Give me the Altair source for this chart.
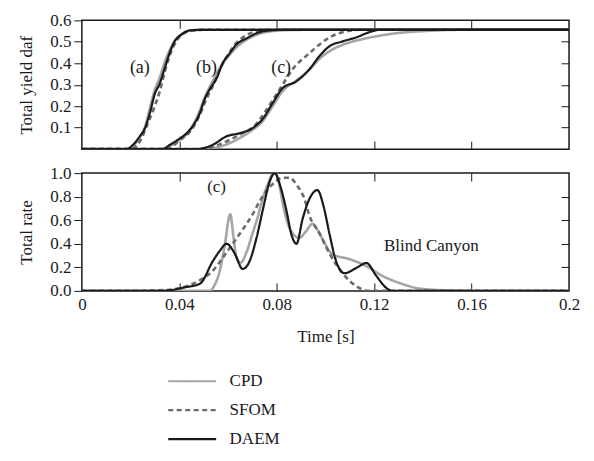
import altair as alt
import pandas as pd

FONT = "Liberation Serif"
MODELS = ["CPD", "SFOM", "DAEM"]
COLORS = ["#a5a5a5", "#6b6b6b", "#1a1a1a"]

# ---------------- Top panel: total yield daf ----------------
a_cpd_t = [0, 0.0185, 0.021, 0.0238, 0.0258, 0.0279, 0.0299, 0.032, 0.034, 0.036, 0.0381, 0.041, 0.0443, 0.05, 0.2]
a_cpd_v = [0, 0, 0.015, 0.055, 0.10, 0.19, 0.275, 0.335, 0.405, 0.46, 0.505, 0.535, 0.553, 0.556, 0.556]
a_sfom_t = [0, 0.0205, 0.0225, 0.0245, 0.0266, 0.0299, 0.032, 0.034, 0.0369, 0.0395, 0.042, 0.045, 0.05, 0.2]
a_sfom_v = [0, 0, 0.015, 0.05, 0.107, 0.20, 0.27, 0.36, 0.46, 0.515, 0.54, 0.553, 0.556, 0.556]
a_daem_t = [0, 0.0185, 0.0205, 0.0238, 0.0258, 0.0279, 0.0299, 0.032, 0.034, 0.036, 0.0381, 0.041, 0.0443, 0.05, 0.2]
a_daem_v = [0, 0, 0.015, 0.06, 0.095, 0.167, 0.256, 0.307, 0.377, 0.447, 0.502, 0.535, 0.553, 0.556, 0.556]

b_cpd_t = [0, 0.033, 0.037, 0.0402, 0.043, 0.0455, 0.0484, 0.0504, 0.0525, 0.0553, 0.0578, 0.0607, 0.0635, 0.0676, 0.0717, 0.077, 0.085, 0.092, 0.2]
b_cpd_v = [0, 0, 0.02, 0.045, 0.07, 0.11, 0.18, 0.24, 0.29, 0.35, 0.40, 0.44, 0.475, 0.51, 0.533, 0.548, 0.555, 0.556, 0.556]
b_sfom_t = [0, 0.035, 0.04, 0.045, 0.048, 0.051, 0.054, 0.057, 0.06, 0.063, 0.0656, 0.07, 0.075, 0.2]
b_sfom_v = [0, 0, 0.04, 0.09, 0.15, 0.23, 0.30, 0.38, 0.44, 0.49, 0.516, 0.544, 0.556, 0.556]
b_daem_t = [0, 0.033, 0.0361, 0.0402, 0.043, 0.0455, 0.0484, 0.0504, 0.0525, 0.0553, 0.0578, 0.0607, 0.0635, 0.0676, 0.0717, 0.077, 0.083, 0.2]
b_daem_v = [0, 0, 0.02, 0.05, 0.074, 0.107, 0.167, 0.232, 0.279, 0.33, 0.40, 0.447, 0.488, 0.516, 0.54, 0.553, 0.556, 0.556]

c_cpd_t = [0, 0.05, 0.056, 0.062, 0.066, 0.0701, 0.0742, 0.0783, 0.0824, 0.0881, 0.0934, 0.0975, 0.1016, 0.108, 0.115, 0.122, 0.129, 0.142, 0.155, 0.2]
c_cpd_v = [0, 0, 0.01, 0.035, 0.06, 0.09, 0.13, 0.20, 0.27, 0.32, 0.37, 0.42, 0.456, 0.49, 0.512, 0.528, 0.54, 0.551, 0.556, 0.556]
c_sfom_t = [0, 0.05, 0.056, 0.061, 0.066, 0.071, 0.075, 0.079, 0.0824, 0.0865, 0.0934, 0.1016, 0.107, 0.115, 0.2]
c_sfom_v = [0, 0, 0.02, 0.045, 0.075, 0.11, 0.17, 0.24, 0.30, 0.372, 0.447, 0.52, 0.545, 0.556, 0.556]
c_daem_t = [0, 0.047, 0.0537, 0.0594, 0.0647, 0.0701, 0.0742, 0.0783, 0.0824, 0.0881, 0.0934, 0.0975, 0.1016, 0.107, 0.1127, 0.118, 0.1225, 0.2]
c_daem_v = [0, 0, 0.02, 0.06, 0.074, 0.098, 0.14, 0.214, 0.284, 0.316, 0.372, 0.433, 0.479, 0.502, 0.521, 0.545, 0.556, 0.556]

# ---------------- Bottom panel: total rate (case c) ----------------
r_cpd_t = [0, 0.0525, 0.0545, 0.0566, 0.0586, 0.0609, 0.0623, 0.0635, 0.0652, 0.0676, 0.0701, 0.0721, 0.0742, 0.0762, 0.0783, 0.0795, 0.0811, 0.0824, 0.0844, 0.0865, 0.0893, 0.0918, 0.0947, 0.0967, 0.0988, 0.1029, 0.1098, 0.1168, 0.1234, 0.1303, 0.1397, 0.1537, 0.1725, 0.2]
r_cpd_v = [0, 0, 0.05, 0.17, 0.38, 0.65, 0.45, 0.28, 0.24, 0.33, 0.49, 0.62, 0.78, 0.90, 0.99, 1.0, 0.90, 0.75, 0.58, 0.49, 0.45, 0.50, 0.57, 0.52, 0.44, 0.31, 0.27, 0.21, 0.127, 0.068, 0.017, 0.003, 0, 0]
r_sfom_t = [0, 0.0238, 0.0279, 0.036, 0.043, 0.0484, 0.0537, 0.0578, 0.0619, 0.066, 0.0701, 0.073, 0.0758, 0.0791, 0.0824, 0.0852, 0.0885, 0.0914, 0.0934, 0.0975, 0.1016, 0.107, 0.1127, 0.118, 0.2]
r_sfom_v = [0, 0, 0.003, 0.01, 0.04, 0.09, 0.17, 0.28, 0.40, 0.52, 0.65, 0.76, 0.85, 0.92, 0.96, 0.96, 0.89, 0.78, 0.64, 0.49, 0.32, 0.15, 0.04, 0, 0]
r_daem_t = [0, 0.032, 0.036, 0.0422, 0.0484, 0.0537, 0.0566, 0.0594, 0.0627, 0.066, 0.0688, 0.0717, 0.0742, 0.077, 0.0791, 0.0816, 0.084, 0.086, 0.0881, 0.0906, 0.0934, 0.0967, 0.0992, 0.1016, 0.1041, 0.1078, 0.1127, 0.1168, 0.1209, 0.125, 0.1275, 0.2]
r_daem_v = [0, 0, 0.005, 0.03, 0.06, 0.25, 0.34, 0.40, 0.32, 0.186, 0.25, 0.45, 0.68, 0.92, 1.0, 0.88, 0.68, 0.48, 0.40, 0.61, 0.78, 0.856, 0.72, 0.49, 0.27, 0.15, 0.195, 0.237, 0.127, 0.025, 0, 0]

# ---------------- Axis ticks and labels ----------------
x_ticks = [0, 0.04, 0.08, 0.12, 0.16, 0.2]
x_inner_ticks = [0.04, 0.08, 0.12, 0.16]
yield_ticks = [0.1, 0.2, 0.3, 0.4, 0.5, 0.6]
yield_inner_ticks = [0.1, 0.2, 0.3, 0.4, 0.5]
rate_ticks = [0.0, 0.2, 0.4, 0.6, 0.8, 1.0]
rate_inner_ticks = [0.2, 0.4, 0.6, 0.8]

top_labels = ["(a)", "(b)", "(c)"]
top_labels_t = [0.0238, 0.0512, 0.0818]
top_labels_v = [0.378, 0.378, 0.378]
bottom_labels = ["(c)", "Blind Canyon"]
bottom_labels_t = [0.0553, 0.1435]
bottom_labels_v = [0.88, 0.385]

W = 488
H_TOP = 129
H_BOT = 118
TICK = 8
INK = "#1a1a1a"


def frame(values, model, group):
    return pd.DataFrame({"t": values[0], "v": values[1], "model": model, "group": group})


top_df = pd.concat([
    frame((a_cpd_t, a_cpd_v), "CPD", "a"), frame((a_sfom_t, a_sfom_v), "SFOM", "a"), frame((a_daem_t, a_daem_v), "DAEM", "a"),
    frame((b_cpd_t, b_cpd_v), "CPD", "b"), frame((b_sfom_t, b_sfom_v), "SFOM", "b"), frame((b_daem_t, b_daem_v), "DAEM", "b"),
    frame((c_cpd_t, c_cpd_v), "CPD", "c"), frame((c_sfom_t, c_sfom_v), "SFOM", "c"), frame((c_daem_t, c_daem_v), "DAEM", "c"),
], ignore_index=True)
bot_df = pd.concat([
    frame((r_cpd_t, r_cpd_v), "CPD", "c"), frame((r_sfom_t, r_sfom_v), "SFOM", "c"), frame((r_daem_t, r_daem_v), "DAEM", "c"),
], ignore_index=True)

legend = alt.Legend(
    orient="none", legendX=97, legendY=348, title=None, symbolType="M-2,0H2",
    symbolSize=576, symbolStrokeWidth=2.2, labelFont=FONT, labelFontSize=17,
    labelColor=INK, labelOffset=24, rowPadding=7, symbolLimit=3,
)
color = alt.Color("model:N", scale=alt.Scale(domain=MODELS, range=COLORS), legend=legend)
dash = alt.StrokeDash("model:N", scale=alt.Scale(domain=MODELS, range=[[1, 0], [5, 3.5], [1, 0]]), legend=legend)

WIDTHS = {"CPD": 2.6, "SFOM": 2.6, "DAEM": 2.2}


def inner_axis(orient, values):
    return alt.Axis(orient=orient, values=values, offset=-TICK, tickSize=TICK, tickColor=INK,
                    tickWidth=1, labels=False, domain=False, grid=False, title=None)


def panel(df, ydomain, yticks, yinner, yformat, ytitle, show_x_labels, labels, labels_t, labels_v, lab_size):
    xscale = alt.Scale(domain=[0, 0.2], nice=False, zero=False)
    yscale = alt.Scale(domain=ydomain, nice=False, zero=False)
    main_x = alt.Axis(
        orient="bottom", values=x_ticks, format="~g", labels=show_x_labels, labelFlush=False,
        ticks=False, domain=False, grid=False, title="Time [s]" if show_x_labels else None,
        labelFont=FONT, labelFontSize=17, labelColor=INK, labelPadding=6,
        titleFont=FONT, titleFontSize=17, titleFontWeight="normal", titleColor=INK, titlePadding=16,
    )
    main_y = alt.Axis(
        orient="left", values=yticks, format=yformat, tickSize=TICK, tickColor=INK, tickWidth=1,
        domain=False, grid=False, title=ytitle, labelFont=FONT, labelFontSize=17, labelFlush=False,
        labelColor=INK, labelPadding=3, titleFont=FONT, titleFontSize=17,
        titleFontWeight="normal", titleColor=INK, titlePadding=14,
    )
    x_axes = [main_x, inner_axis("bottom", x_inner_ticks), inner_axis("top", x_inner_ticks)]
    y_axes = [main_y, inner_axis("right", yinner), None]
    layers = []
    for i, m in enumerate(MODELS):
        enc = dict(
            x=alt.X("t:Q", scale=xscale, axis=x_axes[i]),
            y=alt.Y("v:Q", scale=yscale, axis=y_axes[i]),
            color=color, strokeDash=dash, detail="group:N",
        )
        layers.append(
            alt.Chart(df[df.model == m]).mark_line(strokeWidth=WIDTHS[m], interpolate="monotone", clip=True).encode(**enc)
        )
    ann = alt.Chart(pd.DataFrame({"t": labels_t, "v": labels_v, "label": labels})).mark_text(
        font=FONT, fontSize=lab_size, color=INK
    ).encode(
        x=alt.X("t:Q", scale=xscale, axis=None),
        y=alt.Y("v:Q", scale=yscale, axis=None),
        text="label:N",
    )
    layers.append(ann)
    return alt.layer(*layers).resolve_axis(x="independent", y="independent")


top = panel(top_df, [0, 0.6], yield_ticks, yield_inner_ticks, ".1f", "Total yield daf", False,
            top_labels, top_labels_t, top_labels_v, 18).properties(width=W, height=H_TOP)
bot = panel(bot_df, [0, 1.0], rate_ticks, rate_inner_ticks, ".1f", "Total rate", True,
            bottom_labels, bottom_labels_t, bottom_labels_v, 17).properties(width=W, height=H_BOT)

chart = alt.vconcat(top, bot, spacing=12).properties(
    padding={"left": 9, "top": 2, "right": 5, "bottom": 5}
).configure(
    background="white", font=FONT, view={"stroke": INK, "strokeWidth": 1.5}
)

chart.save("out.html", embed_options={"renderer": "svg", "actions": False})
